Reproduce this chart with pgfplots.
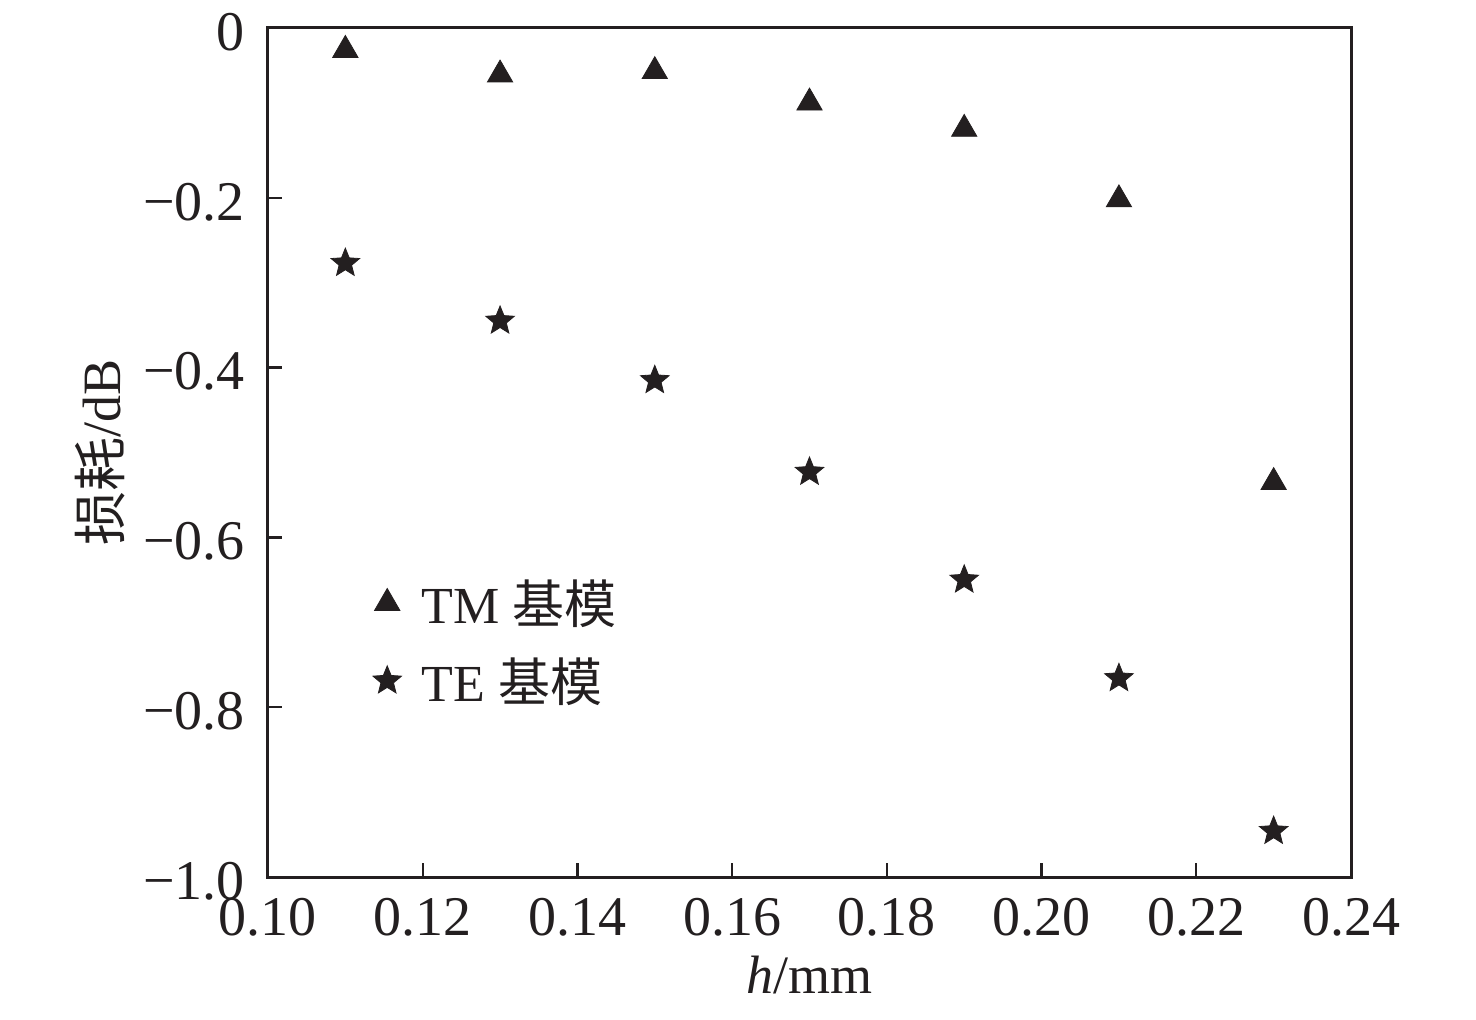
\documentclass[border=0pt]{standalone}
\usepackage{fontspec}
\setmainfont{Liberation Serif}
\newfontfamily\cjk{Noto Sans CJK SC}
\usepackage{pgfplots}
\pgfplotsset{compat=1.18}
\usetikzlibrary{plotmarks}
\definecolor{ink}{RGB}{35,31,32}
\pgfdeclareplotmark{fstar}{%
  \pgfpathmoveto{\pgfpointpolar{90}{\pgfplotmarksize}}%
  \pgfpathlineto{\pgfpointpolar{126}{0.44\pgfplotmarksize}}%
  \pgfpathlineto{\pgfpointpolar{162}{\pgfplotmarksize}}%
  \pgfpathlineto{\pgfpointpolar{198}{0.44\pgfplotmarksize}}%
  \pgfpathlineto{\pgfpointpolar{234}{\pgfplotmarksize}}%
  \pgfpathlineto{\pgfpointpolar{270}{0.44\pgfplotmarksize}}%
  \pgfpathlineto{\pgfpointpolar{306}{\pgfplotmarksize}}%
  \pgfpathlineto{\pgfpointpolar{342}{0.44\pgfplotmarksize}}%
  \pgfpathlineto{\pgfpointpolar{18}{\pgfplotmarksize}}%
  \pgfpathlineto{\pgfpointpolar{54}{0.44\pgfplotmarksize}}%
  \pgfpathclose
  \pgfusepathqfillstroke}
\begin{document}
\begin{tikzpicture}
\begin{axis}[
  scale only axis, width=541.5pt, height=424.5pt,
  xmin=0.10, xmax=0.24, ymin=-1, ymax=0,
  xtick={0.10,0.12,0.14,0.16,0.18,0.20,0.22,0.24},
  xticklabels={0.10,0.12,0.14,0.16,0.18,0.20,0.22,0.24},
  ytick={-1,-0.8,-0.6,-0.4,-0.2,0},
  yticklabels={−1.0,−0.8,−0.6,−0.4,−0.2,0},
  tick align=inside, tick pos=left,
  major tick length=7pt,
  axis line style={line width=1.5pt, ink},
  every tick/.style={line width=1.2pt, ink},
  ticklabel style={font=\fontsize{28}{30}\selectfont, text=ink},
  xticklabel style={yshift=-7pt},
  yticklabel style={xshift=-8pt, yshift=-2pt},
  label style={font=\fontsize{27}{30}\selectfont, text=ink},
  xlabel={\textit{h}/mm},
  ylabel={{\cjk 损耗}/dB},
  xlabel style={at={(axis description cs:0.5,-0.115)}, anchor=center},
  ylabel style={at={(axis description cs:-0.155,0.5)}, anchor=center},
  legend style={at={(axis description cs:0.091,0.36)}, anchor=north west, draw=none, fill=none,
    font=\fontsize{26}{30}\selectfont, text=ink, row sep=11.5pt, cells={anchor=west}},
]
\addplot[only marks, mark=triangle*, mark size=7.3pt, ink] coordinates {
  (0.11,-0.026) (0.13,-0.055) (0.15,-0.051) (0.17,-0.088)
  (0.19,-0.119) (0.21,-0.202) (0.23,-0.535)};
\addlegendentry{\hspace{8pt}TM {\cjk 基模}}
\addplot[only marks, mark=fstar, mark size=7.5pt, ink] coordinates {
  (0.11,-0.277) (0.13,-0.345) (0.15,-0.415) (0.17,-0.523)
  (0.19,-0.650) (0.21,-0.766) (0.23,-0.946)};
\addlegendentry{\hspace{8pt}TE {\cjk 基模}}
\end{axis}
\path ([shift={(-134pt,-71pt)}]current axis.south west) rectangle ++(738pt,509.5pt);
\end{tikzpicture}
\end{document}
